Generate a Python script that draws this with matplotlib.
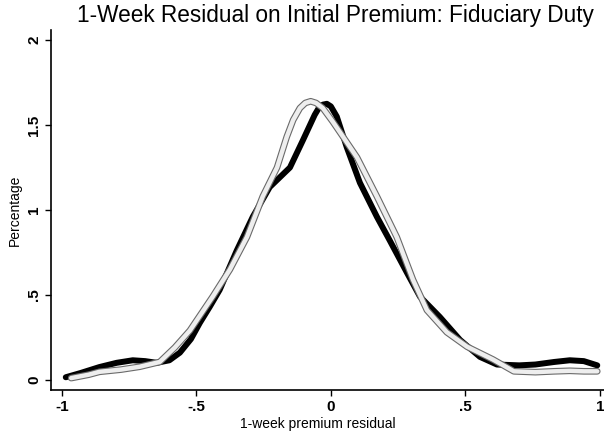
import matplotlib
matplotlib.use("Agg")
import matplotlib.pyplot as plt

# black (thick) density
black_x = [-0.985, -0.93, -0.86, -0.796, -0.736, -0.69, -0.647, -0.60, -0.561, -0.52,
           -0.487, -0.45, -0.413, -0.35, -0.29, -0.227, -0.152, -0.104, -0.06, -0.045,
           -0.03, -0.015, 0.0, 0.022, 0.059, 0.108, 0.171, 0.219, 0.283, 0.331,
           0.405, 0.48, 0.554, 0.617, 0.70, 0.76, 0.83, 0.888, 0.94, 0.99]
black_y = [0.015, 0.04, 0.075, 0.10, 0.115, 0.11, 0.10, 0.115, 0.16, 0.24,
           0.335, 0.43, 0.53, 0.76, 0.96, 1.135, 1.25, 1.41, 1.56, 1.60,
           1.62, 1.625, 1.61, 1.55, 1.37, 1.16, 0.96, 0.82, 0.63, 0.49,
           0.37, 0.235, 0.135, 0.09, 0.085, 0.09, 0.105, 0.115, 0.11, 0.085]

# gray (outlined) density
gray_x = [-0.965, -0.9, -0.86, -0.78, -0.71, -0.636, -0.58, -0.524, -0.439, -0.375,
          -0.312, -0.253, -0.2, -0.164, -0.14, -0.115, -0.095, -0.075, -0.055, -0.03,
          0.007, 0.05, 0.097, 0.171, 0.245, 0.305, 0.357, 0.431, 0.506, 0.602,
          0.68, 0.76, 0.83, 0.888, 0.94, 0.99]
gray_y = [0.01, 0.03, 0.047, 0.06, 0.077, 0.105, 0.19, 0.29, 0.49, 0.65,
          0.84, 1.08, 1.25, 1.43, 1.53, 1.60, 1.63, 1.64, 1.63, 1.60,
          1.52, 1.42, 1.31, 1.08, 0.84, 0.59, 0.41, 0.28, 0.195, 0.12,
          0.05, 0.045, 0.05, 0.053, 0.05, 0.05]

xticks = [-1, -0.5, 0, 0.5, 1]
xtick_labels = ["-1", "-.5", "0", ".5", "1"]
yticks = [0, 0.5, 1, 1.5, 2]
ytick_labels = ["0", ".5", "1", "1.5", "2"]

plt.rcParams["font.family"] = ["Liberation Sans", "DejaVu Sans"]

fig = plt.figure(figsize=(6.04, 4.34), dpi=100)
ax = fig.add_axes([0.0844, 0.1014, 0.9156, 0.8296])

ax.plot(black_x, black_y, color="black", lw=4.3, solid_capstyle="round")
ax.plot(gray_x, gray_y, color="#6a6a6a", lw=4.8, solid_capstyle="round")
ax.plot(gray_x, gray_y, color="#eeeeee", lw=3.2, solid_capstyle="round")

ax.set_xlim(-1.04, 1.015)
ax.set_ylim(-0.06, 2.06)
ax.set_xticks(xticks)
ax.set_xticklabels(xtick_labels, fontweight="bold")
ax.set_yticks(yticks)
ax.set_yticklabels(ytick_labels, rotation=90, va="center", fontweight="bold")
ax.tick_params(direction="out", length=4, width=1, labelsize=11, pad=3, colors="black")

for side in ("top", "right"):
    ax.spines[side].set_visible(False)
for side in ("left", "bottom"):
    ax.spines[side].set_linewidth(1.2)

ax.set_xlabel("1-week premium residual", fontsize=10, labelpad=1)
ax.xaxis.set_label_coords(0.483, -0.075)
ax.set_ylabel("Percentage", fontsize=10, labelpad=4)
fig.text(0.555, 0.965, "1-Week Residual on Initial Premium: Fiduciary Duty",
         ha="center", va="center", fontsize=16.3)

fig.savefig("out.png", dpi=100)
